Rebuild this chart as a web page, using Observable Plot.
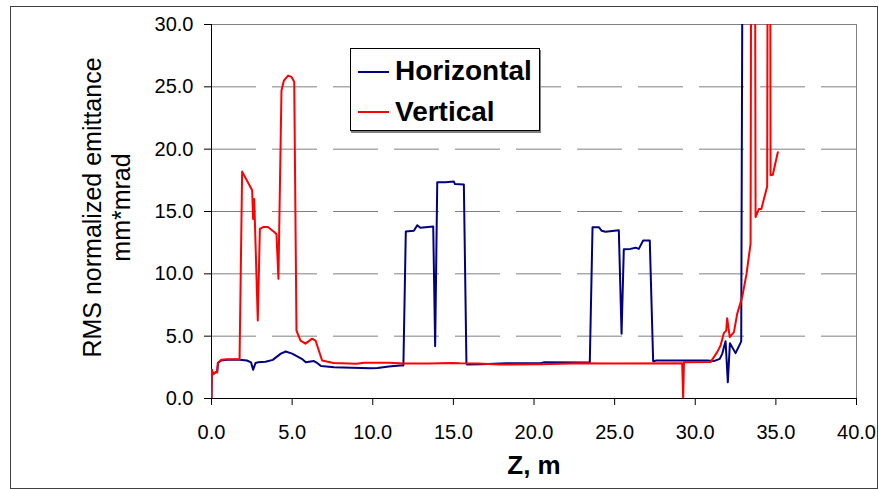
<!DOCTYPE html>
<html>
<head>
<meta charset="utf-8">
<script src="https://cdn.jsdelivr.net/npm/d3@7"></script>
<script src="https://cdn.jsdelivr.net/npm/@observablehq/plot@0.6"></script>
<style>
  html, body { margin: 0; padding: 0; background: #fff; }
  #wrap { position: relative; width: 879px; height: 489px; font-family: "Liberation Sans", Arial, sans-serif; color: #000; }
  #outer { position: absolute; left: 10px; top: 6px; width: 868px; height: 483px; box-sizing: border-box; border: 1px solid #404040; pointer-events: none; }
  #legend { position: absolute; left: 350px; top: 48px; width: 190px; height: 83px; box-sizing: border-box; border: 1px solid #000; background: #fff; box-shadow: 1px 2px 0 #808080; }
  #legend .sw { position: absolute; left: 7px; width: 31px; height: 2px; }
  #legend .lb { position: absolute; left: 44px; font-size: 28px; line-height: 28px; font-weight: bold; white-space: nowrap; }
</style>
</head>
<body>
<div id="wrap">
  <div id="chart"></div>
  <div id="legend"></div>
  <div id="outer"></div>
</div>
<script>
// Series names and colours
const seriesNames = ["Horizontal", "Vertical"];
const seriesColors = ["#000080", "#FF0000"];

// Horizontal emittance: Z (m) and value (mm*mrad)
const horizontalZ = [0.0, 0.02, 0.1, 0.25, 0.35, 0.4, 0.6, 1.0, 1.74, 2.2, 2.45, 2.58, 2.73, 2.9, 3.35, 3.8, 4.3, 4.6, 5.0, 5.6, 5.85, 6.35, 6.55, 6.8, 7.6, 9.86, 10.3, 11.0, 11.7, 11.9, 12.05, 12.55, 12.76, 12.95, 13.75, 13.87, 14.0, 14.5, 15.03, 15.1, 15.65, 15.81, 15.85, 16.7, 18.3, 20.4, 20.6, 23.46, 23.63, 24.02, 24.2, 24.43, 25.26, 25.43, 25.57, 25.98, 26.3, 26.5, 26.77, 27.18, 27.39, 27.6, 30.74, 31.15, 31.52, 31.67, 31.88, 32.02, 32.15, 32.5, 32.8, 32.85, 32.95];
const horizontalE = [0.0, 2.3, 1.95, 2.1, 2.1, 2.85, 3.05, 3.1, 3.1, 3.05, 2.9, 2.3, 2.85, 2.9, 2.95, 3.1, 3.6, 3.77, 3.6, 3.18, 2.9, 3.0, 2.85, 2.6, 2.5, 2.43, 2.45, 2.57, 2.65, 2.65, 13.4, 13.45, 13.9, 13.7, 13.8, 4.2, 17.35, 17.35, 17.4, 17.2, 17.17, 2.83, 2.72, 2.75, 2.83, 2.83, 2.9, 2.89, 13.74, 13.74, 13.45, 13.37, 13.5, 5.19, 11.98, 12.0, 12.1, 12.0, 12.67, 12.67, 2.99, 3.05, 3.05, 3.0, 3.18, 3.58, 4.6, 1.31, 4.44, 3.64, 4.44, 4.6, 45];

// Vertical emittance: Z (m) and value (mm*mrad)
const verticalZ = [0.0, 0.02, 0.1, 0.25, 0.35, 0.4, 0.6, 1.0, 1.74, 1.9, 2.52, 2.58, 2.65, 2.87, 3.0, 3.2, 3.5, 3.85, 4.03, 4.15, 4.34, 4.49, 4.75, 4.95, 5.13, 5.27, 5.52, 5.83, 6.24, 6.45, 6.86, 7.57, 9.0, 9.45, 11.0, 11.9, 13.5, 14.93, 15.4, 16.5, 17.9, 20.4, 22.9, 25.0, 29.19, 29.25, 29.3, 30.95, 31.36, 31.57, 31.77, 31.92, 31.98, 32.14, 32.4, 32.6, 32.91, 33.18, 33.43, 33.48, 33.70, 33.74, 33.95, 34.1, 34.46, 34.5, 34.64, 34.67, 34.81, 35.12];
const verticalE = [0.0, 2.3, 1.95, 2.1, 2.1, 2.85, 3.1, 3.15, 3.15, 18.2, 16.7, 14.4, 16.0, 6.25, 13.6, 13.75, 13.75, 13.4, 13.2, 9.6, 24.7, 25.5, 25.9, 25.8, 25.4, 5.45, 4.65, 4.4, 4.8, 4.65, 3.05, 2.85, 2.78, 2.86, 2.86, 2.8, 2.8, 2.85, 2.82, 2.8, 2.73, 2.75, 2.82, 2.8, 2.83, 0.0, 2.91, 2.92, 3.72, 4.25, 5.24, 5.45, 6.44, 4.92, 5.32, 6.79, 8.13, 10.0, 12.4, 45, 45, 14.55, 15.2, 15.2, 17.0, 45, 45, 17.9, 17.95, 19.76];

// Axis ticks
const xTicks = [0, 5, 10, 15, 20, 25, 30, 35, 40];
const yTicks = [0, 5, 10, 15, 20, 25, 30];
const gridTicks = [5, 10, 15, 20, 25];
const xTitle = "Z, m";
const yTitle = "RMS normalized emittance\nmm*mrad";

const rows = [
  ...horizontalZ.map((z, i) => ({z, e: horizontalE[i], s: seriesNames[0]})),
  ...verticalZ.map((z, i) => ({z, e: verticalE[i], s: seriesNames[1]}))
];

const chart = Plot.plot({
  width: 879,
  height: 489,
  marginLeft: 211,
  marginRight: 23,
  marginTop: 24,
  marginBottom: 91,
  style: {fontFamily: "'Liberation Sans', Arial, sans-serif", background: "transparent", color: "#000"},
  x: {domain: [0, 40]},
  y: {domain: [0, 30]},
  color: {domain: seriesNames, range: seriesColors},
  marks: [
    Plot.gridY(gridTicks, {stroke: "#808080", strokeOpacity: 1, strokeWidth: 1, strokeDasharray: "45,16"}),
    Plot.frame({stroke: "#808080"}),
    Plot.axisY({ticks: yTicks, tickFormat: d => d.toFixed(1), tickSize: 7, tickPadding: 11, fontSize: 20, label: null}),
    Plot.axisX({ticks: xTicks, tickFormat: d => d.toFixed(1), tickSize: 7, tickPadding: 19, fontSize: 20, label: null}),
    Plot.ruleX([0], {stroke: "#000"}),
    Plot.ruleY([0], {stroke: "#000"}),
    Plot.line(rows.filter(d => d.s === seriesNames[0]), {x: "z", y: "e", stroke: "s", strokeWidth: 2, clip: true}),
    Plot.line(rows.filter(d => d.s === seriesNames[1]), {x: "z", y: "e", stroke: "s", strokeWidth: 2, clip: true}),
    Plot.text([xTitle], {frameAnchor: "bottom", dy: 67, fontSize: 26, fontWeight: "bold", lineAnchor: "middle", fill: "#000"}),
    Plot.text([yTitle], {frameAnchor: "left", textAnchor: "middle", rotate: -90, dx: -105, dy: -4, fontSize: 25, lineHeight: 1.15, lineAnchor: "middle", fill: "#000"})
  ]
});
document.getElementById("chart").appendChild(chart);

// Legend built from the series arrays
const legend = document.getElementById("legend");
seriesNames.forEach((name, i) => {
  const sw = document.createElement("div");
  sw.className = "sw";
  sw.style.top = (22 + i * 40) + "px";
  sw.style.background = seriesColors[i];
  legend.appendChild(sw);
  const lb = document.createElement("div");
  lb.className = "lb";
  lb.style.top = (8 + i * 41) + "px";
  lb.textContent = name;
  legend.appendChild(lb);
});
</script>
</body>
</html>
